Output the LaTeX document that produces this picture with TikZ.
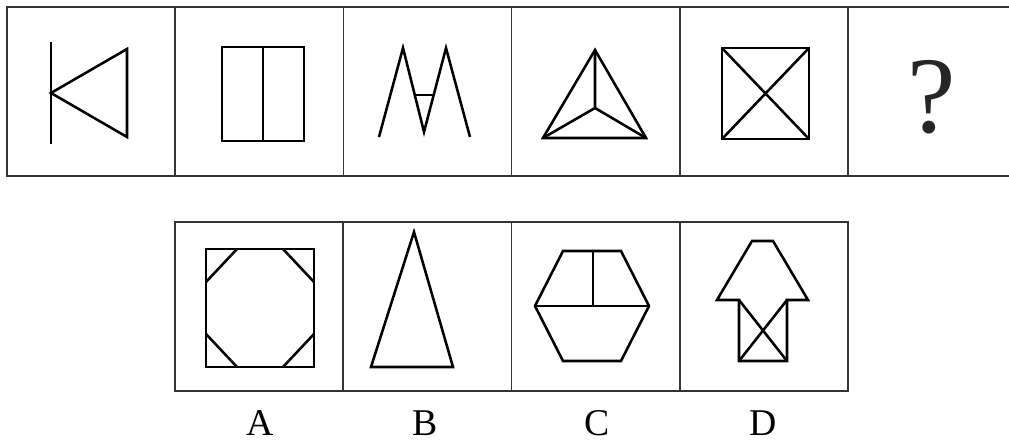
\documentclass[tikz,border=0pt]{standalone}
\usepackage{fontspec}
\setmainfont{Liberation Serif}
\usepackage{tikz}
\usetikzlibrary{calc}

\tikzset{
    cell/.style={draw=black!80, line width=0.9pt},
    fig/.style={black, line width=1.45pt, line join=miter},
    choice/.style={font=\fontsize{21.5}{22}\selectfont, anchor=base, inner sep=0pt},
}

\begin{document}
\begin{tikzpicture}[x=0.02cm, y=-0.02cm]
    \useasboundingbox (0,0) rectangle (1009,445);
    \clip (0,0) rectangle (1009,445);

    % Cells of the upper row
    \foreach \i in {0,...,5}
        \draw[cell] (7+168.2*\i,7) rectangle (175.2+168.2*\i,176);

    % Cells of the lower row
    \foreach \i in {0,...,3}
        \draw[cell] (175+168.25*\i,222) rectangle (343.25+168.25*\i,391);

    % Figure 1: bar and triangle
    \coordinate (K1) at (51,42);
    \coordinate (K2) at (51,144);
    \coordinate (K3) at (51,93);
    \coordinate (K4) at (127,49);
    \coordinate (K5) at (127,137);
    \draw[fig] (K1) -- (K2);
    \draw[fig] (K3) -- (K4) -- (K5) -- cycle;

    % Figure 2: split rectangle
    \draw[fig] (222,47) rectangle (304,141);
    \draw[fig] (263,47) -- (263,141);

    % Figure 3: M with bar
    \coordinate (M1) at (379,137);
    \coordinate (M2) at (403,48);
    \coordinate (M3) at (424,132);
    \coordinate (M4) at (446,48);
    \coordinate (M5) at (470,137);
    \draw[fig] (M1) -- (M2) -- (M3) -- (M4) -- (M5);
    \draw[fig] ($(M2)!0.56!(M3)$) -- ($(M4)!0.56!(M3)$);

    % Figure 4: triangle with centre
    \coordinate (T1) at (595,50);
    \coordinate (T2) at (543,138);
    \coordinate (T3) at (646,138);
    \coordinate (T0) at (595,108);
    \draw[fig] (T1) -- (T2) -- (T3) -- cycle;
    \draw[fig] (T0) -- (T1) (T0) -- (T2) (T0) -- (T3);

    % Figure 5: crossed square
    \coordinate (S1) at (722,48);
    \coordinate (S2) at (809,48);
    \coordinate (S3) at (809,139);
    \coordinate (S4) at (722,139);
    \draw[fig] (S1) -- (S2) -- (S3) -- (S4) -- cycle;
    \draw[fig] (S1) -- (S3) (S2) -- (S4);

    % Question mark
    \node[anchor=base, inner sep=0pt, text=black!85, font=\fontsize{62}{62}\selectfont] (Q) at (932,133) {?};

    % Option A: square with cut corners
    \draw[fig] (206,249) rectangle (314,367);
    \draw[fig] (237,249) -- (206,282);
    \draw[fig] (283,249) -- (314,282);
    \draw[fig] (206,334) -- (237,367);
    \draw[fig] (314,334) -- (283,367);

    % Option B: tall triangle
    \draw[fig] (414,232) -- (371,367) -- (453,367) -- cycle;

    % Option C: hexagon
    \coordinate (H1) at (563,251);
    \coordinate (H2) at (621,251);
    \coordinate (H3) at (649,306);
    \coordinate (H4) at (621,361);
    \coordinate (H5) at (563,361);
    \coordinate (H6) at (535,306);
    \draw[fig] (H1) -- (H2) -- (H3) -- (H4) -- (H5) -- (H6) -- cycle;
    \draw[fig] (H6) -- (H3);
    \draw[fig] (593,251) -- (593,306);

    % Option D: arrow
    \coordinate (D1) at (739,300);
    \coordinate (D2) at (787,300);
    \coordinate (D3) at (787,361);
    \coordinate (D4) at (739,361);
    \draw[fig] (752,241) -- (773,241) -- (808,300) -- (D2) -- (D3) -- (D4) -- (D1) -- (717,300) -- cycle;
    \draw[fig] (D1) -- (D3) (D2) -- (D4);

    % Option letters
    \node[choice] (A) at (260,436) {A};
    \node[choice] (B) at (425,436) {B};
    \node[choice] (C) at (597,436) {C};
    \node[choice] (D) at (763,436) {D};
\end{tikzpicture}
\end{document}
